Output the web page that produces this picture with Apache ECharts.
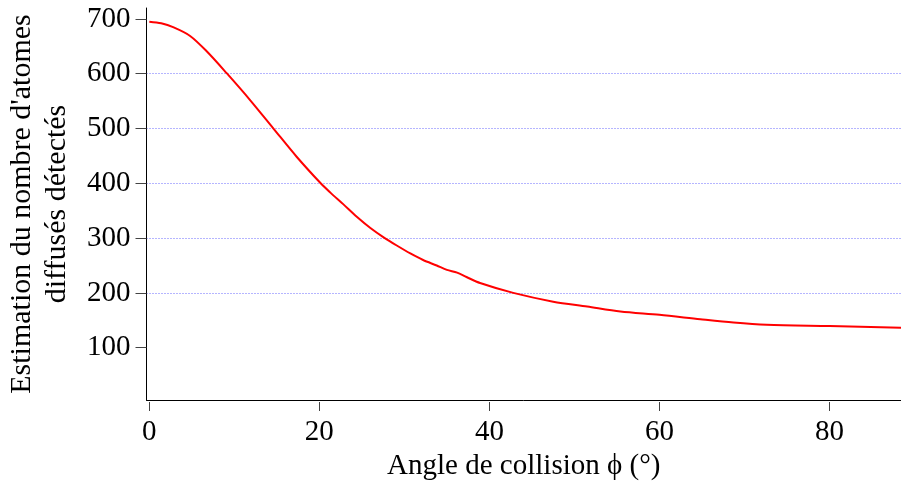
<!DOCTYPE html>
<html>
<head>
<meta charset="utf-8">
<script src="https://cdn.jsdelivr.net/npm/echarts@6/dist/echarts.min.js"></script>
<style>
  html, body { margin: 0; padding: 0; background: #fff; }
  #chart { width: 901px; height: 485px; }
</style>
</head>
<body>
<div id="chart"></div>
<script>
// angle de collision (deg) and estimated counts
var phi = [0, 1.4, 2.8, 4.8, 6.75, 9.1, 11.85, 14.6, 17.3, 20.1, 21.3, 22.8, 24.4, 26.0, 27.6, 29.1, 30.7,
  32.2, 33.8, 35.0, 36.2, 37.3, 38.9, 42.8, 47.5, 51.5, 55.4, 60, 64.8, 68.7, 72.6, 80, 88.4]
var counts = [695, 692, 685, 669, 641, 601, 552, 500, 449, 401, 383, 362, 339, 318.5, 301, 286.5, 272,
  260, 250, 242, 237, 229, 218, 200, 184, 175, 166, 160, 152, 146, 142, 139.5, 136.5]
var xTicks = [0, 20, 40, 60, 80]
var yTicks = [100, 200, 300, 400, 500, 600, 700]

var font = 'Liberation Serif'
var chart = echarts.init(document.getElementById('chart'))

chart.setOption({
  animation: false,
  grid: { left: 146.5, right: 0, top: 8, bottom: 85, containLabel: false, outerBoundsMode: 'none' },
  xAxis: [{
    type: 'value',
    min: -0.33,
    max: 88.4,
    offset: 2,
    name: 'Angle de collision ϕ (°)',
    nameLocation: 'middle',
    nameGap: 46,
    nameTextStyle: { fontFamily: font, fontSize: 29, color: '#000' },
    axisLine: { show: false },
    axisTick: { show: true, length: 9, customValues: xTicks, lineStyle: { color: '#444', width: 1 } },
    axisLabel: { customValues: xTicks, margin: 16, fontFamily: font, fontSize: 29, color: '#000' },
    splitLine: { show: false }
  }, {
    type: 'value',
    position: 'bottom',
    min: -0.33,
    max: 88.4,
    axisLine: { show: true, onZero: false, lineStyle: { color: '#000', width: 1 } },
    axisTick: { show: false },
    axisLabel: { show: false },
    splitLine: { show: false }
  }],
  yAxis: {
    type: 'value',
    min: 4.5,
    max: 720,
    splitNumber: 7,
    name: "Estimation du nombre d'atomes\ndiffusés détectés",
    nameLocation: 'middle',
    nameRotate: 90,
    nameGap: 72,
    nameTextStyle: { fontFamily: font, fontSize: 30, color: '#000', lineHeight: 35 },
    axisLine: { show: true, onZero: false, lineStyle: { color: '#000', width: 1 } },
    axisTick: { show: true, length: 11, customValues: yTicks, lineStyle: { color: '#444', width: 1 } },
    axisLabel: { customValues: yTicks, margin: 16, fontFamily: font, fontSize: 29, color: '#000' },
    splitLine: {
      show: true,
      showMinLine: false,
      showMaxLine: false,
      lineStyle: { color: '#6a6aff', type: [1, 2], width: 1 }
    }
  },
  series: [{
    type: 'line',
    xAxisIndex: 0,
    data: phi.map(function (p, i) { return [p, counts[i]] }),
    smooth: 0.3,
    showSymbol: false,
    lineStyle: { color: '#ff0000', width: 2 },
    itemStyle: { color: '#ff0000' }
  }]
})
</script>
</body>
</html>
